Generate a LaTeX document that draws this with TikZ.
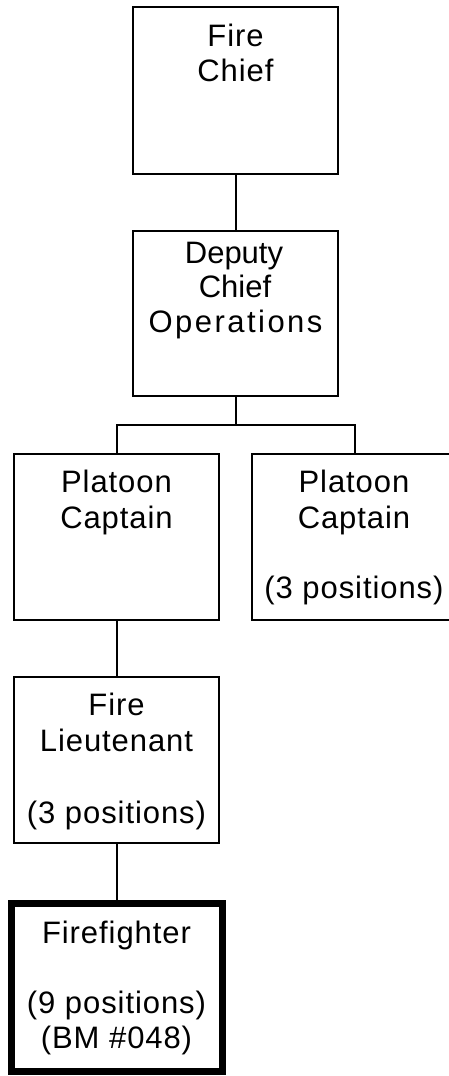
\documentclass[tikz,border=0pt]{standalone}
\usepackage{fontspec}
\setmainfont{Liberation Sans}[LetterSpace=3]
\newfontfamily\tightfont{Liberation Sans}[LetterSpace=0]
\newfontfamily\widefont{Liberation Sans}[LetterSpace=8]
\begin{document}
\begin{tikzpicture}[x=1pt,y=-1pt,
  box/.style={draw=black, line width=2pt, rectangle, inner sep=0pt,
    minimum width=205pt, minimum height=166pt},
  ffbox/.style={box, line width=7pt, minimum width=211pt, minimum height=168pt},
  ln/.style={anchor=base, inner sep=0pt, font=\fontsize{31pt}{36pt}\selectfont},
  conn/.style={draw=black, line width=2pt}]
\useasboundingbox (0,0) rectangle (449,1076);
% boxes
\node[box, minimum height=167pt] (chief) at (235.5,90.5) {};
\node[box, minimum height=165pt] (deputy) at (235.5,313.5) {};
\node[box] (capL) at (116.5,537) {};
\node[box] (capR) at (354.5,537) {};
\node[box] (lieut) at (116.5,760) {};
\node[ffbox] (ff) at (116.5,987.5) {};
% texts
\node[ln] (t1) at (235.5,46) {Fire};
\node[ln] (t2) at (235.5,81.5) {Chief};
\node[ln] (t3) at (234,263) {\tightfont Deputy};
\node[ln] (t4) at (235,297.5) {\tightfont Chief};
\node[ln] (t5) at (235.5,332) {\widefont Operations};
\node[ln] (t6) at (116.5,492.7) {Platoon};
\node[ln] (t7) at (116.5,528) {Captain};
\node[ln] (t8) at (354,492.7) {Platoon};
\node[ln] (t9) at (354,528) {Captain};
\node[ln] (t10) at (354,598.5) {(3 positions)};
\node[ln] (t11) at (116.5,715) {Fire};
\node[ln] (t12) at (116.5,751) {Lieutenant};
\node[ln] (t13) at (116.5,823) {(3 positions)};
\node[ln] (t14) at (116.5,943) {Firefighter};
\node[ln] (t15) at (116.5,1013) {(9 positions)};
\node[ln] (t16) at (116.5,1048) {(BM \#048)};
% connectors
\coordinate (j) at (235.5,425);
\draw[conn] (chief.south) -- (deputy.north);
\draw[conn] (deputy.south) -- (j);
\draw[conn] (capL.north) |- (j) -| (capR.north);
\draw[conn] (capL.south) -- (lieut.north);
\draw[conn] (lieut.south) -- (ff.north);
\end{tikzpicture}
\end{document}
